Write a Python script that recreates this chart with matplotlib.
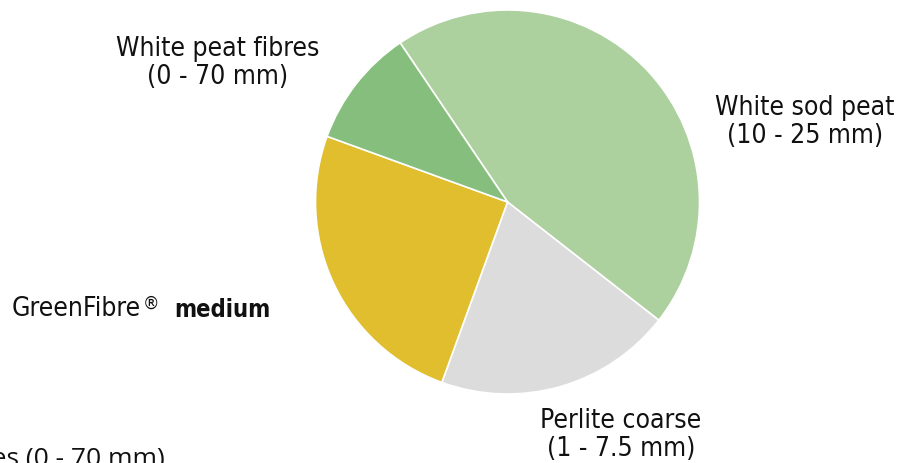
import numpy as np
import matplotlib
matplotlib.use("Agg")
import matplotlib.pyplot as plt

# data
names = ['White sod peat', 'Perlite coarse', 'GreenFibre', 'White peat fibres']
sizes = ['(10 - 25 mm)', '(1 - 7.5 mm)', '', '(0 - 70 mm)']
shares = [45, 20, 25, 10]
colors = ['#acd09e', '#dcdcdc', '#e0be2d', '#86bf7d']

W, H = 900, 464
fig = plt.figure(figsize=(W/100, H/100), dpi=100)

def px(x, y):
    return x/W, 1 - y/H

# pie: centre (507,203) px, radius 192 px
cx, cy, r = 507.5, 203, 192
ax = fig.add_axes([(cx-r)/W, 1-(cy+r)/H, 2*r/W, 2*r/H])
ax.pie(shares, colors=colors, startangle=124, counterclock=False,
       wedgeprops=dict(edgecolor='white', linewidth=1.2))
ax.set_xlim(-1, 1)
ax.set_ylim(-1, 1)
ax.set_aspect('equal')
ax.axis('off')

fnt = dict(family='DejaVu Sans', stretch='condensed', size=19, color='#111111')

# two-line labels: (centre x, baseline y of first line)
label_pos = {0: (805, 115), 1: (621, 428), 3: (218, 56)}
for i, (lx, ly) in label_pos.items():
    fig.text(*px(lx, ly), names[i], ha='center', va='baseline', **fnt)
    fig.text(*px(lx, ly+28), sizes[i], ha='center', va='baseline', **fnt)

# GreenFibre(R) medium
t1 = fig.text(*px(12, 316), names[2], ha='left', va='baseline', **fnt)
ax.annotate('®', xy=(1, 0), xycoords=t1, xytext=(1, 7), textcoords='offset points',
            ha='left', va='bottom', annotation_clip=False,
            family='DejaVu Sans', size=12, color='#111111')
ax.annotate('medium', xy=(1, 0), xycoords=t1, xytext=(24, 0), textcoords='offset points',
            ha='left', va='bottom', annotation_clip=False,
            family='DejaVu Sans', stretch='condensed', size=17, weight='bold', color='#111111')

# cut-off label at the bottom left
fig.text(*px(165, 466), names[3] + ' ' + sizes[3], ha='right', va='baseline',
         family='Open Sans', size=19, color='#111111')

plt.savefig('out.png', dpi=100)
